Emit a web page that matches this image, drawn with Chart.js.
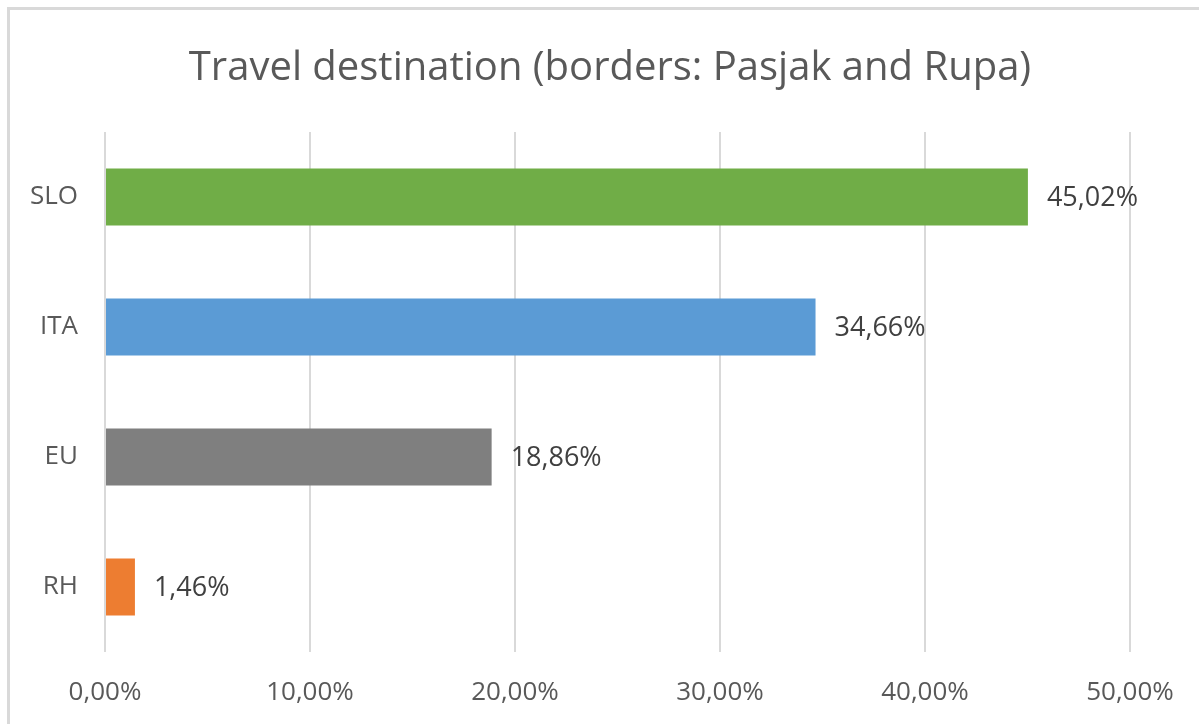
<!DOCTYPE html>
<html>
<head>
<meta charset="utf-8">
<script src="https://cdn.jsdelivr.net/npm/chart.js@4"></script>
<style>
  html, body { margin: 0; padding: 0; background: #fff; overflow: hidden; }
  #wrap { position: relative; width: 1220px; height: 724px; }
  #frame {
    position: absolute; left: 7px; top: 7px; right: 0; bottom: 0;
    border-top: 3px solid #d9d9d9; border-left: 3px solid #d9d9d9;
    pointer-events: none;
  }
</style>
</head>
<body>
<div id="wrap">
  <canvas id="chart" width="1220" height="724"></canvas>
  <div id="frame"></div>
</div>
<script>
const title = 'Travel destination (borders: Pasjak and Rupa)'
const categories = ['SLO', 'ITA', 'EU', 'RH']
const shares = [45.02, 34.66, 18.86, 1.46]
const barColours = ['#70ad47', '#5b9bd5', '#7f7f7f', '#ed7d31']
const axisMin = 0
const axisMax = 50
const axisStep = 10

const fontFamily = '"Segoe UI", "Open Sans", sans-serif'
const percent = (v) => v.toFixed(2).replace('.', ',') + '%'

// the title in the original is centred on the whole frame, not the plot
const titleShift = {
  id: 'titleShift',
  afterLayout(chart) {
    if (chart.titleBlock) chart.titleBlock.left = 90
  },
}

const valueLabels = {
  id: 'valueLabels',
  afterDatasetsDraw(chart) {
    const ctx = chart.ctx
    const meta = chart.getDatasetMeta(0)
    ctx.save()
    ctx.font = '27px ' + fontFamily
    ctx.fillStyle = '#404040'
    ctx.textAlign = 'left'
    ctx.textBaseline = 'middle'
    meta.data.forEach((bar, i) => {
      ctx.fillText(percent(shares[i]), bar.x + 19, bar.y + 1)
    })
    ctx.restore()
  },
}

new Chart(document.getElementById('chart'), {
  type: 'bar',
  data: {
    labels: categories,
    datasets: [{
      data: shares,
      backgroundColor: barColours,
      categoryPercentage: 1,
      barPercentage: 0.44,
    }],
  },
  options: {
    indexAxis: 'y',
    responsive: false,
    animation: false,
    layout: { padding: { left: 0, right: 90, top: 0, bottom: 0 } },
    plugins: {
      legend: { display: false },
      tooltip: { enabled: false },
      title: {
        display: true,
        text: title,
        color: '#595959',
        font: { family: fontFamily, size: 40, weight: 'normal' },
        padding: { top: 45, bottom: 39 },
      },
    },
    scales: {
      x: {
        min: axisMin,
        max: axisMax,
        afterFit: (scale) => { scale.height = 72 },
        ticks: {
          stepSize: axisStep,
          padding: 25,
          color: '#595959',
          font: { family: fontFamily, size: 26 },
          callback: (v) => percent(v),
        },
        grid: { color: '#d9d9d9', lineWidth: 2, drawTicks: false },
        border: { display: false },
      },
      y: {
        afterFit: (scale) => { scale.width = 105 },
        ticks: {
          padding: 27,
          color: '#595959',
          font: { family: fontFamily, size: 26 },
        },
        grid: { display: false, drawTicks: false },
        border: { display: false },
      },
    },
  },
  plugins: [titleShift, valueLabels],
})
</script>
</body>
</html>
